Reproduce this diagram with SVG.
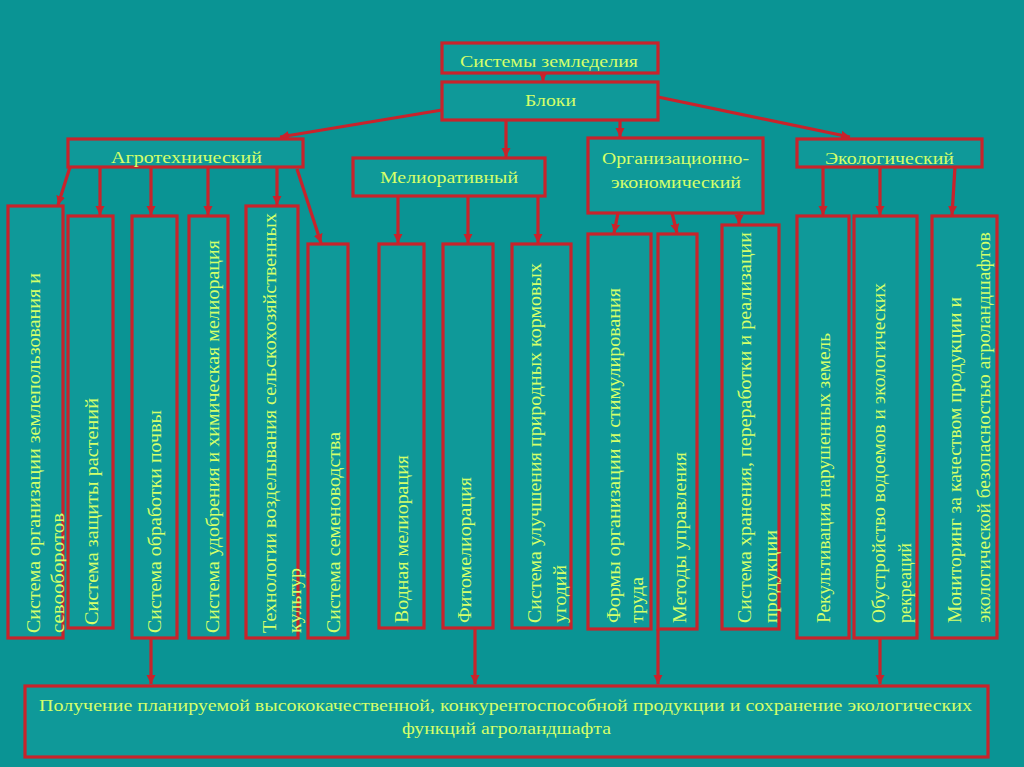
<svg xmlns="http://www.w3.org/2000/svg" width="1024" height="767" viewBox="0 0 1024 767">
<defs>
<marker id="ah" markerUnits="userSpaceOnUse" markerWidth="10" markerHeight="10" refX="9" refY="5" orient="auto">
<path d="M0,0.5 L9,5 L0,9.5 z" fill="#c8232b"/>
</marker>
<style>
.box{fill:#0f9999;stroke:#c8232b;stroke-width:3.2}
.lbl{font-family:"Liberation Serif","Times New Roman",serif;fill:#d4ff6a;font-size:17px}
.v{font-family:"Liberation Serif","Times New Roman",serif;fill:#d4ff6a;font-size:18px}
.c{stroke:#c8232b;stroke-width:3.2;fill:none;marker-end:url(#ah)}
</style>
</defs>
<rect width="1024" height="767" fill="#0a9494"/>

<g id="connectors">
<line class="c" x1="543" y1="73" x2="543" y2="81"/>
<line class="c" x1="442" y1="110" x2="280" y2="137"/>
<line class="c" x1="506" y1="120" x2="506" y2="157"/>
<line class="c" x1="620" y1="120" x2="620" y2="137"/>
<line class="c" x1="658" y1="97" x2="850" y2="137"/>
<line class="c" x1="70" y1="167" x2="58" y2="205"/>
<line class="c" x1="100" y1="167" x2="100" y2="215"/>
<line class="c" x1="151" y1="167" x2="151" y2="215"/>
<line class="c" x1="208" y1="167" x2="208" y2="215"/>
<line class="c" x1="277" y1="167" x2="277" y2="205"/>
<line class="c" x1="297" y1="169" x2="321" y2="243"/>
<line class="c" x1="398" y1="196" x2="398" y2="243"/>
<line class="c" x1="468" y1="196" x2="468" y2="243"/>
<line class="c" x1="538" y1="196" x2="538" y2="243"/>
<line class="c" x1="618" y1="213" x2="614" y2="233"/>
<line class="c" x1="672" y1="213" x2="677" y2="233"/>
<line class="c" x1="739" y1="213" x2="739" y2="224"/>
<line class="c" x1="823" y1="167" x2="823" y2="215"/>
<line class="c" x1="880" y1="167" x2="880" y2="215"/>
<line class="c" x1="955" y1="167" x2="952" y2="215"/>
<line class="c" x1="151" y1="638" x2="151" y2="684"/>
<line class="c" x1="475" y1="628" x2="475" y2="684"/>
<line class="c" x1="658" y1="629" x2="658" y2="684"/>
<line class="c" x1="880" y1="638" x2="880" y2="684"/>
</g>

<g id="n-sistemy"><rect class="box" x="442" y="43" width="216" height="30"/><text class="lbl" x="460" y="67" textLength="178" lengthAdjust="spacingAndGlyphs">Системы земледелия</text></g>
<g id="n-bloki"><rect class="box" x="442" y="82" width="216" height="38"/><text class="lbl" x="525" y="106" textLength="51" lengthAdjust="spacingAndGlyphs">Блоки</text></g>
<g id="n-agro"><rect class="box" x="68" y="139" width="235" height="28"/><text class="lbl" x="111" y="163" textLength="151" lengthAdjust="spacingAndGlyphs">Агротехнический</text></g>
<g id="n-melio"><rect class="box" x="353" y="158" width="192" height="38"/><text class="lbl" x="380" y="183" textLength="138" lengthAdjust="spacingAndGlyphs">Мелиоративный</text></g>
<g id="n-org"><rect class="box" x="588" y="138" width="175" height="75"/><text class="lbl" x="602" y="164" textLength="147" lengthAdjust="spacingAndGlyphs">Организационно-</text><text class="lbl" x="611" y="188" textLength="130" lengthAdjust="spacingAndGlyphs">экономический</text></g>
<g id="n-eco"><rect class="box" x="797" y="139" width="185" height="28"/><text class="lbl" x="825" y="164" textLength="129" lengthAdjust="spacingAndGlyphs">Экологический</text></g>

<g id="n-a1"><rect class="box" x="8" y="206" width="55" height="432"/>
<text class="v" transform="translate(40,633) rotate(-90)" textLength="360" lengthAdjust="spacingAndGlyphs">Система организации землепользования и</text>
<text class="v" transform="translate(64,633) rotate(-90)" textLength="120" lengthAdjust="spacingAndGlyphs">севооборотов</text></g>
<g id="n-a2"><rect class="box" x="68" y="216" width="45" height="412"/>
<text class="v" transform="translate(98,625) rotate(-90)" textLength="227" lengthAdjust="spacingAndGlyphs">Система  защиты растений</text></g>
<g id="n-a3"><rect class="box" x="132" y="216" width="45" height="422"/>
<text class="v" transform="translate(161,633) rotate(-90)" textLength="223" lengthAdjust="spacingAndGlyphs">Система обработки почвы</text></g>
<g id="n-a4"><rect class="box" x="189" y="216" width="39" height="422"/>
<text class="v" transform="translate(219,633) rotate(-90)" textLength="393" lengthAdjust="spacingAndGlyphs">Система удобрения и химическая мелиорация</text></g>
<g id="n-a5"><rect class="box" x="246" y="206" width="52" height="432"/>
<text class="v" transform="translate(276,633) rotate(-90)" textLength="420" lengthAdjust="spacingAndGlyphs">Технологии возделывания сельскохозяйственных</text>
<text class="v" transform="translate(301,633) rotate(-90)" textLength="65" lengthAdjust="spacingAndGlyphs">культур</text></g>
<g id="n-a6"><rect class="box" x="308" y="244" width="40" height="394"/>
<text class="v" transform="translate(340,633) rotate(-90)" textLength="201" lengthAdjust="spacingAndGlyphs">Система семеноводства</text></g>

<g id="n-m1"><rect class="box" x="379" y="244" width="45" height="384"/>
<text class="v" transform="translate(408,623) rotate(-90)" textLength="168" lengthAdjust="spacingAndGlyphs">Водная мелиорация</text></g>
<g id="n-m2"><rect class="box" x="443" y="244" width="50" height="384"/>
<text class="v" transform="translate(471,623) rotate(-90)" textLength="146" lengthAdjust="spacingAndGlyphs">Фитомелиорация</text></g>
<g id="n-m3"><rect class="box" x="512" y="244" width="59" height="384"/>
<text class="v" transform="translate(541,623) rotate(-90)" textLength="360" lengthAdjust="spacingAndGlyphs">Система  улучшения природных кормовых</text>
<text class="v" transform="translate(566,623) rotate(-90)" textLength="58" lengthAdjust="spacingAndGlyphs">угодий</text></g>

<g id="n-o1"><rect class="box" x="588" y="234" width="63" height="395"/>
<text class="v" transform="translate(620,623) rotate(-90)" textLength="335" lengthAdjust="spacingAndGlyphs">Формы организации и стимулирования</text>
<text class="v" transform="translate(643,623) rotate(-90)" textLength="46" lengthAdjust="spacingAndGlyphs">труда</text></g>
<g id="n-o2"><rect class="box" x="658" y="234" width="39" height="395"/>
<text class="v" transform="translate(686,623) rotate(-90)" textLength="171" lengthAdjust="spacingAndGlyphs">Методы управления</text></g>
<g id="n-o3"><rect class="box" x="722" y="225" width="57" height="404"/>
<text class="v" transform="translate(751,623) rotate(-90)" textLength="391" lengthAdjust="spacingAndGlyphs">Система  хранения, переработки и реализации</text>
<text class="v" transform="translate(777,623) rotate(-90)" textLength="93" lengthAdjust="spacingAndGlyphs">продукции</text></g>

<g id="n-e1"><rect class="box" x="797" y="216" width="52" height="422"/>
<text class="v" transform="translate(830,623) rotate(-90)" textLength="290" lengthAdjust="spacingAndGlyphs">Рекультивация нарушенных земель</text></g>
<g id="n-e2"><rect class="box" x="854" y="216" width="63" height="422"/>
<text class="v" transform="translate(885,623) rotate(-90)" textLength="340" lengthAdjust="spacingAndGlyphs">Обустройство водоемов и экологических</text>
<text class="v" transform="translate(911,623) rotate(-90)" textLength="80" lengthAdjust="spacingAndGlyphs">рекреаций</text></g>
<g id="n-e3"><rect class="box" x="932" y="216" width="65" height="422"/>
<text class="v" transform="translate(961,623) rotate(-90)" textLength="326" lengthAdjust="spacingAndGlyphs">Мониторинг за  качеством продукции и</text>
<text class="v" transform="translate(990,623) rotate(-90)" textLength="391" lengthAdjust="spacingAndGlyphs">экологической безопасностью агроландшафтов</text></g>

<g id="n-result"><rect class="box" x="25" y="686" width="963" height="71"/>
<text class="lbl" x="39" y="711" textLength="933" lengthAdjust="spacingAndGlyphs">Получение планируемой высококачественной, конкурентоспособной продукции и сохранение экологических</text>
<text class="lbl" x="402" y="734" textLength="209" lengthAdjust="spacingAndGlyphs">функций агроландшафта</text></g>
</svg>
